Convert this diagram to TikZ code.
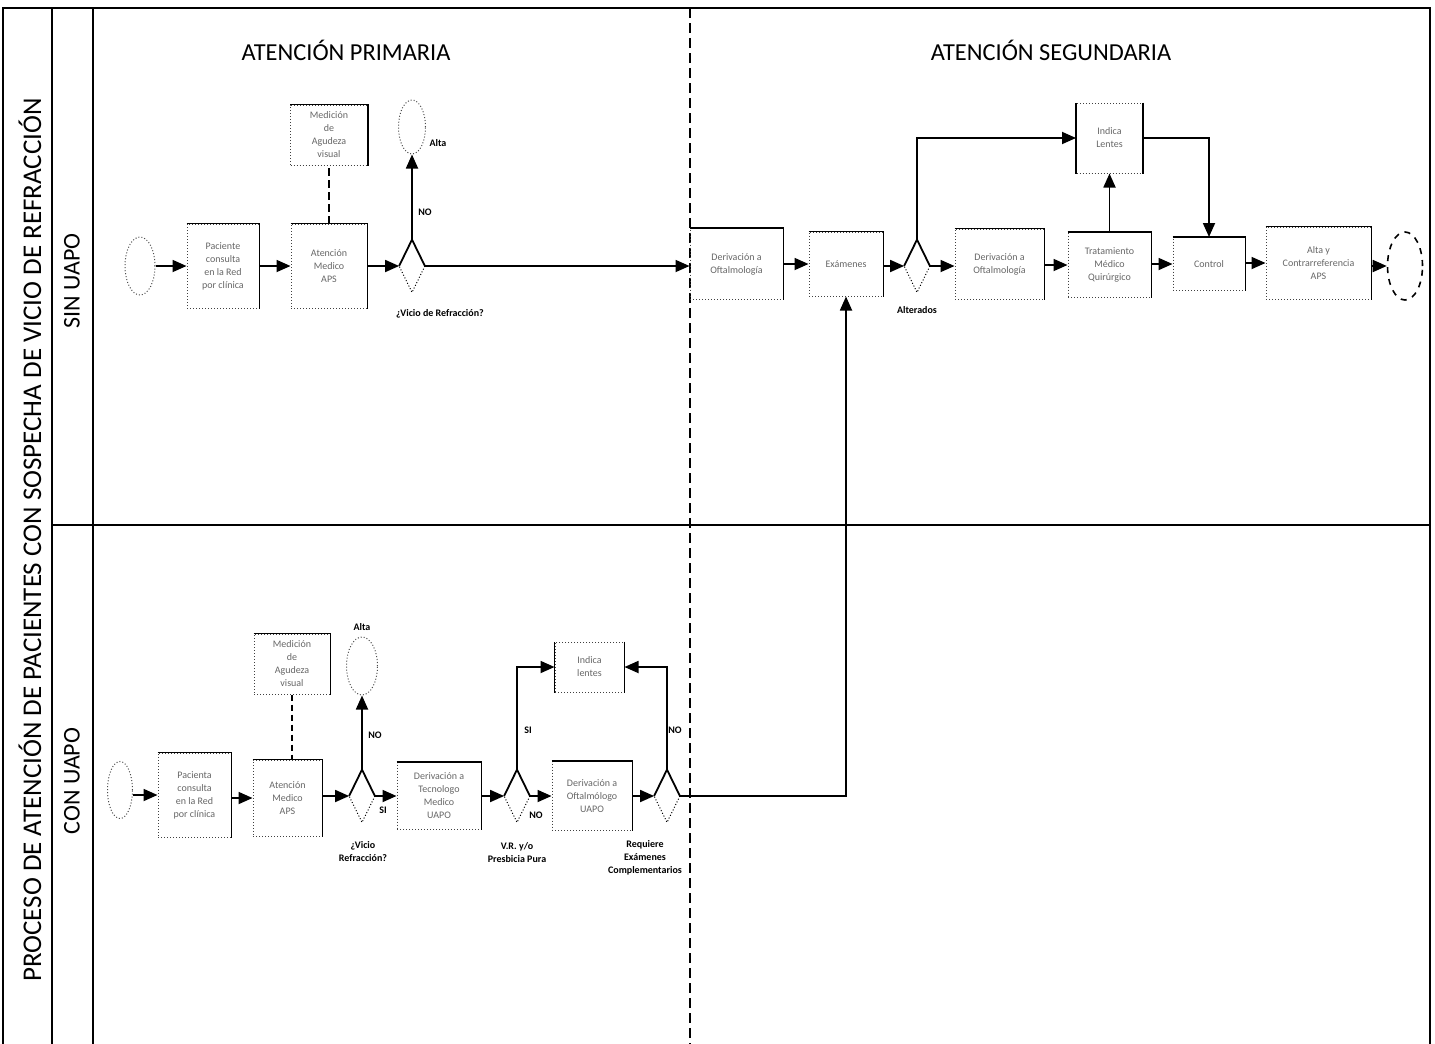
\documentclass[tikz,border=0pt]{standalone}
\usepackage{fontspec}
\setmainfont{Carlito}
\usetikzlibrary{arrows.meta,shapes.geometric}
\begin{document}
\begin{tikzpicture}[x=0.5pt,y=-0.5pt,
  box/.style={draw=black!75, densely dotted, line width=0.5pt, inner sep=0pt,
    font=\fontsize{5}{6.5}\selectfont, text=black!60, align=center},
  dia/.style={diamond, inner sep=0pt, minimum width=12.5pt, minimum height=26pt},
  term/.style={ellipse, draw=black!70, densely dotted, line width=0.5pt, inner sep=0pt},
  arr/.style={-{Triangle[length=7pt,width=6pt]}, line width=0.9pt},
  lbl/.style={font=\bfseries\fontsize{5}{6.5}\selectfont, align=center},
  head/.style={font=\fontsize{12.2}{14}\selectfont},
  lane/.style={font=\fontsize{13.5}{15}\selectfont, rotate=90},
  frame/.style={line width=1pt}]
\useasboundingbox (0,0) rectangle (1435,1044);
% frame
\draw[frame] (3,1044) -- (3,8) -- (1430,8) -- (1430,1044);
\draw[frame] (52,8) -- (52,1044);
\draw[frame] (93,8) -- (93,1044);
\draw[frame] (52,525) -- (1430,525);
\draw[line width=1.2pt, dash pattern=on 5pt off 2.5pt] (690,8) -- (690,1044);
\node[lane] (title) at (30,540) {PROCESO DE ATENCIÓN DE PACIENTES CON SOSPECHA DE VICIO DE REFRACCIÓN};
\node[lane, font=\fontsize{12}{14}\selectfont] (sin) at (72,281) {SIN UAPO};
\node[lane, font=\fontsize{12}{14}\selectfont] (con) at (72,781) {CON UAPO};
\node[head] (h1) at (346,50) {ATENCIÓN PRIMARIA};
\node[head] (h2) at (1051,50) {ATENCIÓN SEGUNDARIA};

% ---------- top lane ----------
\node[term, minimum width=15pt, minimum height=29pt] (s1) at (140,266) {};
\node[box, minimum width=36pt, minimum height=42pt] (p1) at (223,266) {Paciente\\consulta\\en la Red\\por clínica};
\node[box, minimum width=38pt, minimum height=42pt] (a1) at (329,266) {Atención\\Medico\\APS};
\node[box, minimum width=38.5pt, minimum height=30pt] (m1) at (329,135) {Medición\\de\\Agudeza\\visual};
\node[dia] (d1) at (412,266) {};
\node[term, minimum width=13.5pt, minimum height=27pt] (alta1) at (412,127) {};
\node[box, minimum width=46.5pt, minimum height=35.5pt] (do1) at (736.5,264) {Derivación a\\Oftalmología};
\node[box, minimum width=37pt, minimum height=32pt] (ex) at (846,264) {Exámenes};
\node[dia] (d2) at (917,266) {};
\node[box, minimum width=44.5pt, minimum height=35pt] (do2) at (999.5,264) {Derivación a\\Oftalmología};
\node[box, minimum width=41.5pt, minimum height=32.5pt] (tr) at (1109.5,265) {Tratamiento\\Médico\\Quirúrgico};
\node[box, minimum width=33pt, minimum height=35pt] (il1) at (1109.5,138) {Indica\\Lentes};
\node[box, minimum width=36pt, minimum height=26.5pt] (ct) at (1209,264) {Control};
\node[box, minimum width=52.5pt, minimum height=36pt] (al) at (1318.5,263) {Alta y\\Contrarreferencia\\APS};
\node[ellipse, draw, dashed, line width=0.8pt, inner sep=0pt, minimum width=17.5pt, minimum height=34pt] (e1) at (1405,266) {};

% ---------- bottom lane ----------
\node[term, minimum width=12.5pt, minimum height=28.5pt] (s2) at (120,790) {};
\node[box, minimum width=36.5pt, minimum height=42pt] (p2) at (194.5,795) {Pacienta\\consulta\\en la Red\\por clínica};
\node[box, minimum width=34.5pt, minimum height=38pt] (a2) at (287.5,798) {Atención\\Medico\\APS};
\node[box, minimum width=38pt, minimum height=30pt] (m2) at (292,664) {Medición\\de\\Agudeza\\visual};
\node[dia] (d3) at (362,796) {};
\node[term, minimum width=15.5pt, minimum height=29pt] (alta2) at (362,666) {};
\node[box, minimum width=42pt, minimum height=33.5pt] (tm) at (439,796) {Derivación a\\Tecnologo\\Medico\\UAPO};
\node[dia] (d4) at (517,796) {};
\node[box, minimum width=34.5pt, minimum height=25pt] (il2) at (589.5,667) {Indica\\lentes};
\node[box, minimum width=40pt, minimum height=34.5pt] (ou) at (592,796) {Derivación a\\Oftalmólogo\\UAPO};
\node[dia] (d5) at (667,796) {};

% solid top/right edges of boxes
\foreach \b in {p1,a1,m1,do1,ex,do2,tr,ct,al,p2,a2,m2,tm,ou}
  \draw[line width=0.7pt] (\b.north west) -- (\b.north east) -- (\b.south east);
\foreach \b in {il1,il2}
  \draw[line width=0.7pt] (\b.south west) -- (\b.north west) (\b.north east) -- (\b.south east);
% diamonds: solid upper half, dotted lower half
\foreach \d in {d1,d2,d3,d4,d5} {
  \draw[line width=0.9pt] (\d.west) -- (\d.north) -- (\d.east);
  \draw[densely dotted, line width=0.5pt] (\d.east) -- (\d.south) -- (\d.west);
}

% ---------- connectors top ----------
\draw[arr] (s1.east) -- (p1.west);
\draw[arr] (p1.east) -- (a1.west);
\draw[line width=1pt, dash pattern=on 4pt off 2pt] (a1.north) -- (m1.south);
\draw[arr] (a1.east) -- (d1.west);
\draw[arr] (d1.north) -- (alta1.south);
\draw[arr] (d1.east) -- (d1.east -| do1.west);
\draw[arr] (do1.east |- ex.west) -- (ex.west);
\draw[arr] (ex.east |- d2.west) -- (d2.west);
\draw[arr] (d2.east) -- (d2.east -| do2.west);
\draw[arr] (do2.east |- tr.west) -- (tr.west);
\draw[arr] (tr.east |- ct.west) -- (ct.west);
\draw[arr] (ct.east |- al.west) -- (al.west);
\draw[arr] (al.east |- e1.west) -- (e1.west);
\draw[arr] (d2.north) |- (il1.west);
\draw[arr] (tr.north) -- (il1.south);
\draw[arr] (il1.east) -| (ct.north);

% ---------- connectors bottom ----------
\draw[arr] (s2.east |- p2.west) -- (p2.west);
\draw[arr] (p2.east |- a2.west) -- (a2.west);
\draw[line width=0.8pt, dash pattern=on 3pt off 2pt] (m2.south) -- (m2.south |- a2.north);
\draw[arr] (a2.east |- d3.west) -- (d3.west);
\draw[arr] (d3.north) -- (alta2.south);
\draw[arr] (d3.east) -- (d3.east -| tm.west);
\draw[arr] (tm.east |- d4.west) -- (d4.west);
\draw[arr] (d4.east) -- (d4.east -| ou.west);
\draw[arr] (d4.north) |- (il2.west);
\draw[arr] (ou.east |- d5.west) -- (d5.west);
\draw[arr] (d5.north) |- (il2.east);
\draw[arr] (d5.east) -| (ex.south);

% ---------- labels ----------
\node[lbl] (l1) at (438,143) {Alta};
\node[lbl] (l2) at (425,212) {NO};
\node[lbl] (l3) at (440,314) {¿Vicio de Refracción?};
\node[lbl] (l4) at (917,310) {Alterados};
\node[lbl] (l5) at (362,627) {Alta};
\node[lbl] (l6) at (375,735) {NO};
\node[lbl] (l7) at (383,810) {SI};
\node[lbl] (l8) at (363,852) {¿Vicio\\Refracción?};
\node[lbl] (l9) at (528,730) {SI};
\node[lbl] (l10) at (536,815) {NO};
\node[lbl] (l11) at (517,853) {V.R. y/o\\Presbicia Pura};
\node[lbl] (l12) at (675,730) {NO};
\node[lbl] (l13) at (645,858) {Requiere\\Exámenes\\Complementarios};
\end{tikzpicture}
\end{document}
